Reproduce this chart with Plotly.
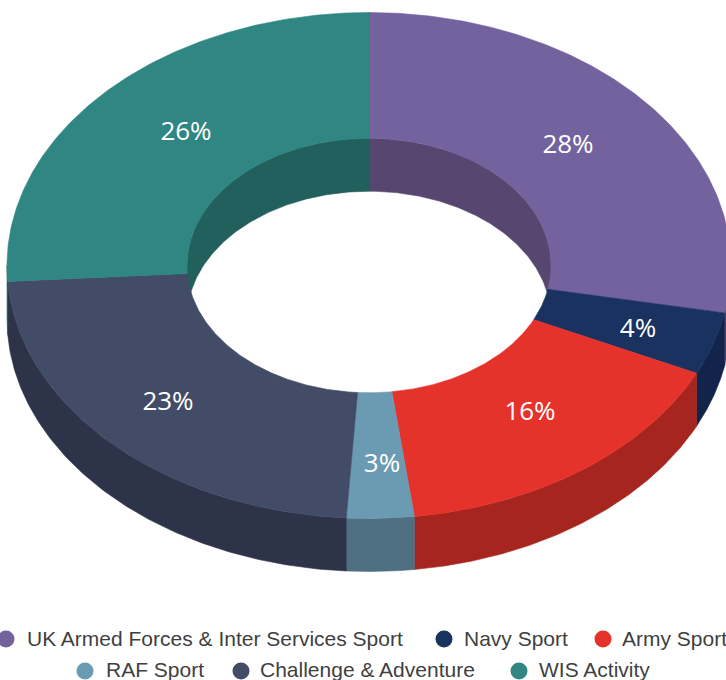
import numpy as np
import plotly.graph_objects as go

categories = ["UK Armed Forces & Inter Services Sport", "Navy Sport", "Army Sport",
              "RAF Sport", "Challenge & Adventure", "WIS Activity"]
shares = [28, 4, 16, 3, 23, 26]
top_colors = ["#74629F", "#1A3260", "#E5322B", "#6B9BB3", "#424C66", "#2F8682"]
side_colors = ["#57466F", "#13244A", "#A6261F", "#4F6F82", "#2D3349", "#22605E"]

CX, CY, RX, RY, HOLE, DEPTH = 369, 265.5, 362, 253, 0.503, 53

legend_x = [6, 444, 603, 85, 241, 519]
legend_y = [639, 639, 639, 671, 671, 671]
legend_text_x = [27, 464, 622, 106, 260, 539]
legend_text_y = [640.5, 640.5, 640.5, 671.5, 671.5, 671.5]
label_x = [568, 638, 530, 382, 168, 186]
label_y = [146, 330, 413, 465, 403, 133]


def pt(t, r=1.0, dz=0.0):
    a = np.radians(t)
    return CX + RX * r * np.sin(a), CY - RY * r * np.cos(a) + dz


fig = go.Figure()


def poly(x, y, color):
    fig.add_trace(go.Scatter(x=np.r_[x, x[0]], y=np.r_[y, y[0]], mode="lines", fill="toself",
                             fillcolor=color, line=dict(color=color, width=0.6),
                             hoverinfo="skip", showlegend=False))


edges = np.r_[0, np.cumsum(shares)] * 3.6
spans = list(zip(edges[:-1], edges[1:]))

# outer wall: front half only
for (a, b), c in zip(spans, side_colors):
    lo, hi = max(a, 90), min(b, 270)
    if hi > lo:
        t = np.linspace(lo, hi, 120)
        x0, y0 = pt(t)
        x1, y1 = pt(t[::-1], 1.0, DEPTH)
        poly(np.r_[x0, x1], np.r_[y0, y1], c)

# inner wall: back half only
for (a, b), c in zip(spans, side_colors):
    for lo, hi in ((max(a, 0), min(b, 90)), (max(a, 270), min(b, 360))):
        if hi > lo:
            t = np.linspace(lo, hi, 120)
            x0, y0 = pt(t, HOLE)
            x1, y1 = pt(t[::-1], HOLE, DEPTH)
            poly(np.r_[x0, x1], np.r_[y0, y1], c)

# top face
for (a, b), c in zip(spans, top_colors):
    t = np.linspace(a, b, 200)
    x0, y0 = pt(t)
    x1, y1 = pt(t[::-1], HOLE)
    poly(np.r_[x0, x1], np.r_[y0, y1], c)

fig.add_trace(go.Scatter(x=label_x, y=label_y, mode="text", text=[f"{s}%" for s in shares],
                         textfont=dict(family="Open Sans", size=26, color="white"),
                         hoverinfo="skip", showlegend=False))
fig.add_trace(go.Scatter(x=legend_x, y=legend_y, mode="markers",
                         marker=dict(size=17, color=top_colors, line=dict(width=0)),
                         cliponaxis=False, hoverinfo="skip", showlegend=False))
fig.add_trace(go.Scatter(x=legend_text_x, y=legend_text_y, mode="text", text=categories,
                         textposition="middle right",
                         textfont=dict(family="Liberation Sans, Arial, sans-serif", size=21, color="#3F3F3F"),
                         cliponaxis=False, hoverinfo="skip", showlegend=False))

fig.update_layout(width=726, height=680, margin=dict(l=0, r=0, t=0, b=0),
                  paper_bgcolor="white", plot_bgcolor="white", showlegend=False,
                  xaxis=dict(range=[0, 726], visible=False, fixedrange=True),
                  yaxis=dict(range=[680, 0], visible=False, fixedrange=True))
fig.write_html("out.html", config=dict(displayModeBar=False),
               post_script="document.body.style.margin='0';document.body.style.overflow='hidden';")
